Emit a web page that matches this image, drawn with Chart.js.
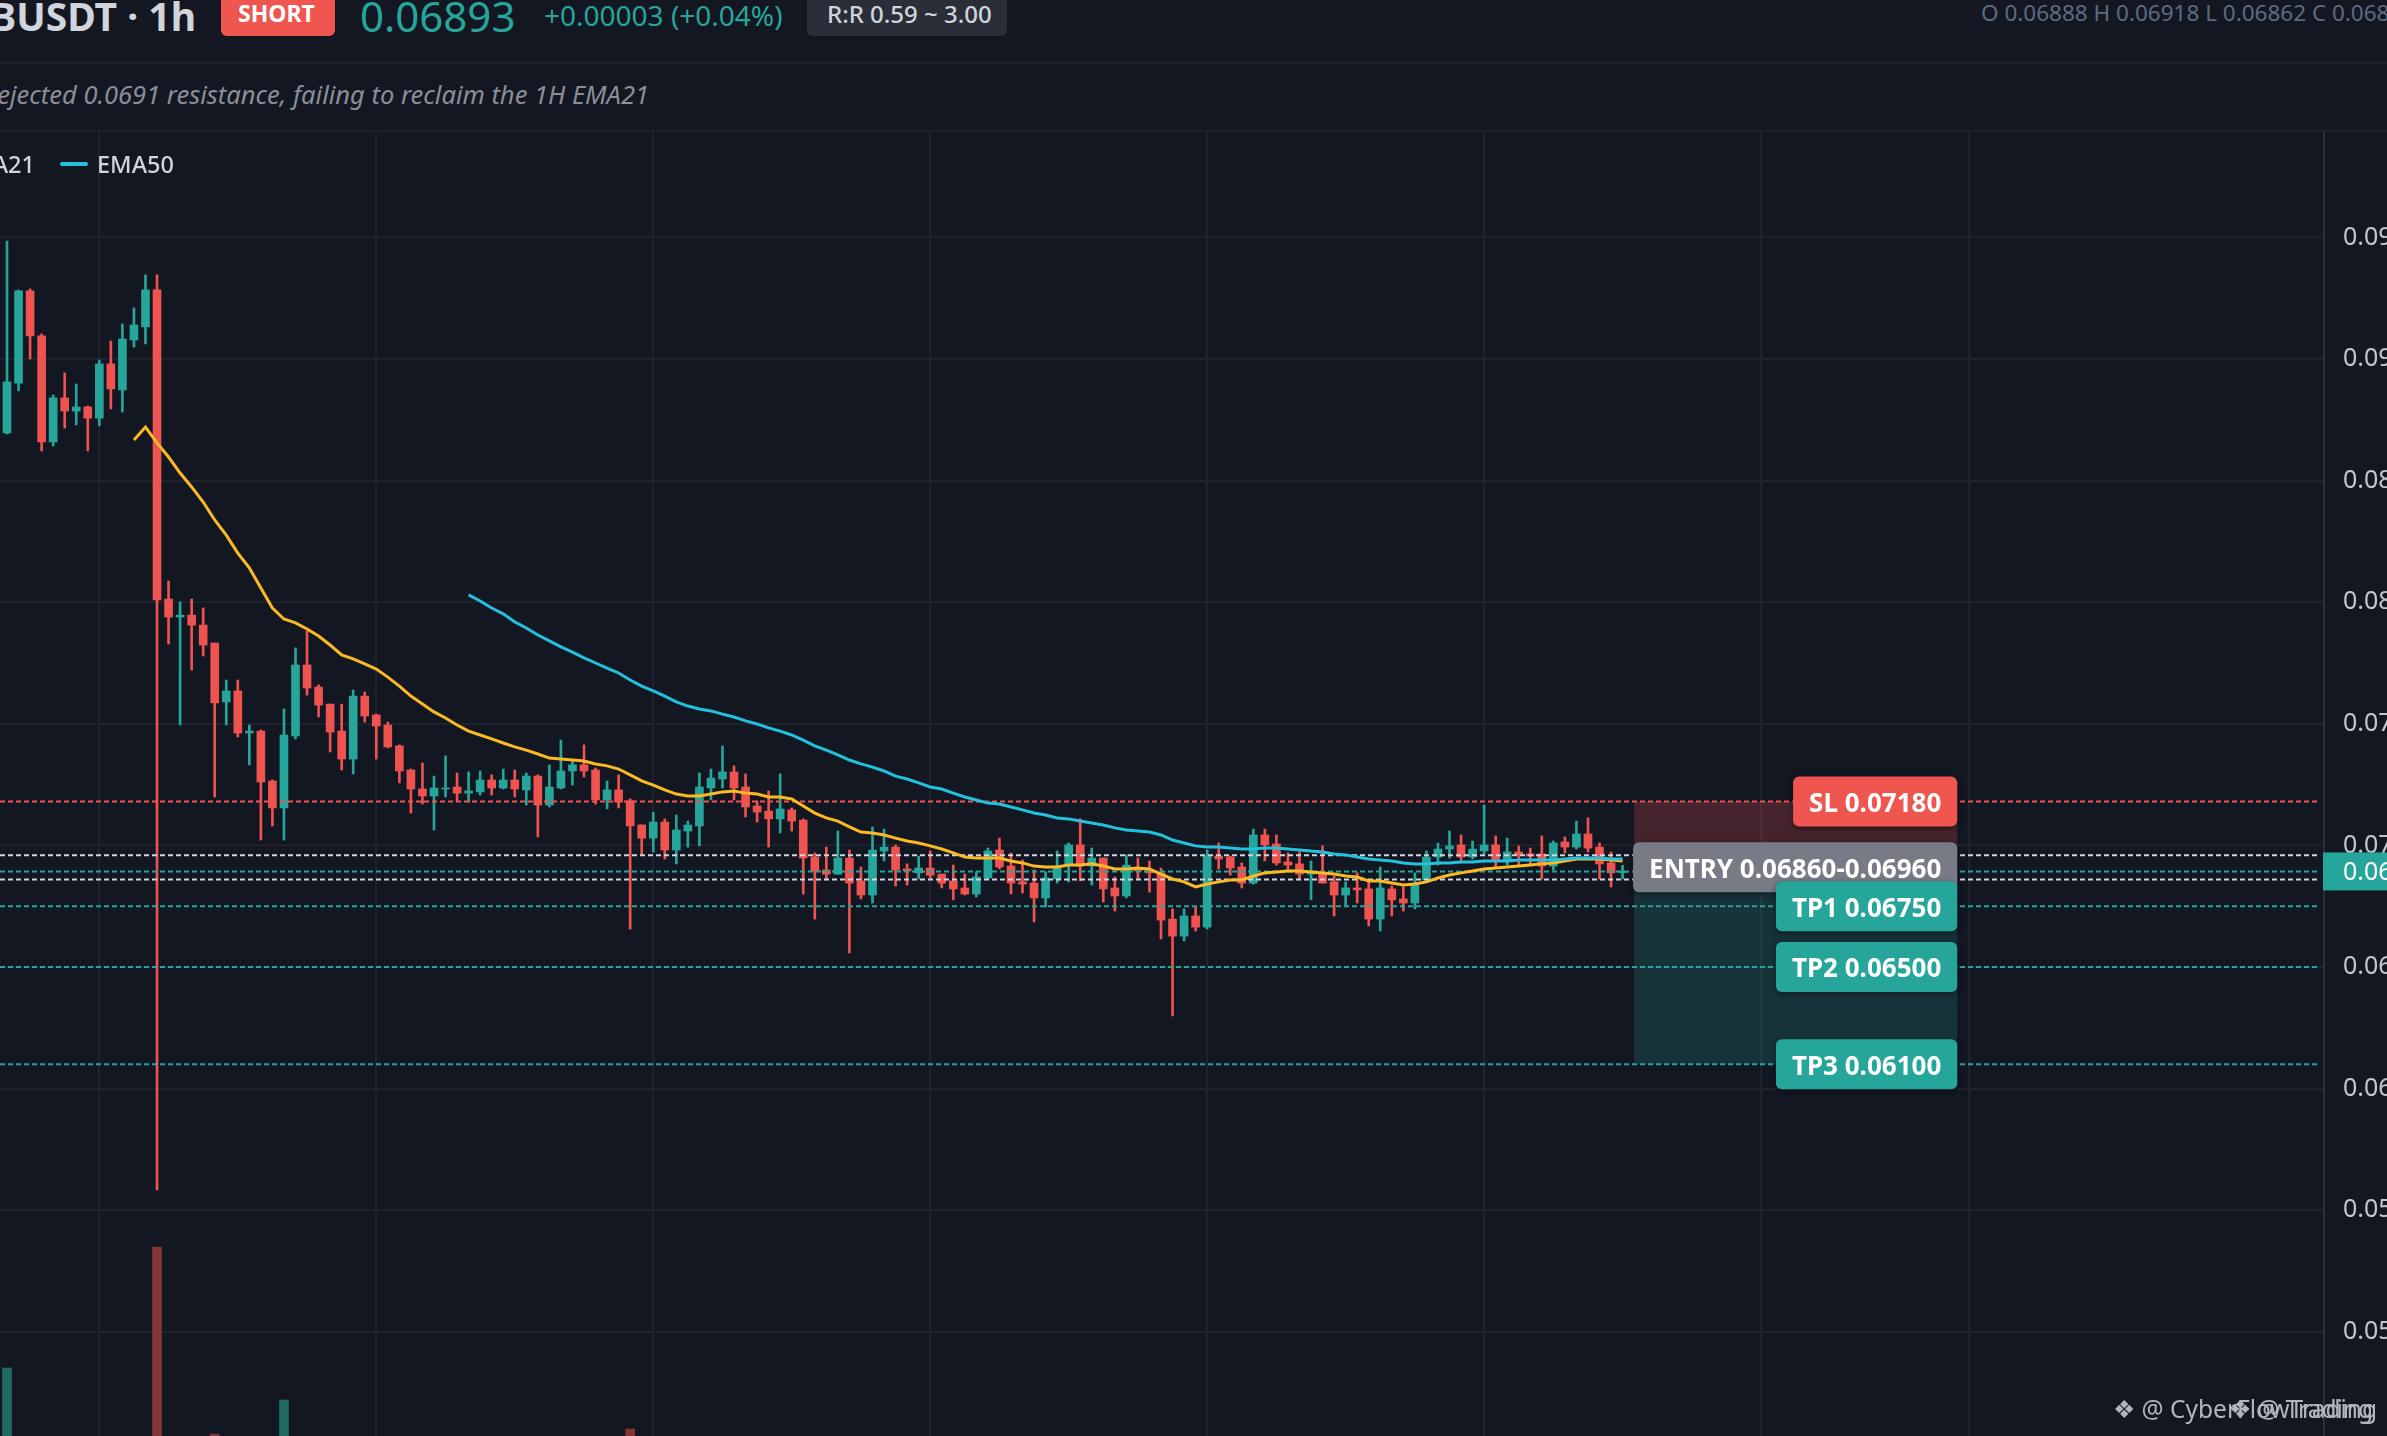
<!DOCTYPE html>
<html>
<head>
<meta charset="utf-8">
<title>BUSDT 1h</title>
<script src="https://cdn.jsdelivr.net/npm/chart.js@4/dist/chart.umd.min.js"></script>
<style>
  html, body { margin: 0; padding: 0; background: #131722; overflow: hidden; }
  body { width: 2387px; height: 1436px; position: relative; font-family: "Noto Sans", sans-serif; }
  #chart { position: absolute; left: 0; top: 131px; }
  .t { position: absolute; white-space: nowrap; line-height: 1; }
  .rule { position: absolute; left: 0; width: 2387px; height: 2px; background: #1e222d; }
  .pill { position: absolute; top: -6px; height: 42px; border-radius: 6px; }
  #swatch { position: absolute; left: 60px; top: 162px; width: 28px; height: 4px; border-radius: 2px; background: #22c1dd; }
</style>
</head>
<body>
<div class="pill" style="left:221px;width:114px;background:#f05650"></div>
<div class="pill" style="left:807px;width:200px;background:#2a2e39"></div>
<div class="t" style="right:2191px;top:-4px;font-size:39px;font-weight:700;color:#d1d4dc">BUSDT · 1h</div>
<div class="t" style="left:238px;top:2px;font-size:23px;font-weight:700;color:#fff">SHORT</div>
<div class="t" style="left:360px;top:-5px;font-size:42px;color:#26a69a">0.06893</div>
<div class="t" style="left:544px;top:1px;font-size:28px;color:#26a69a">+0.00003 (+0.04%)</div>
<div class="t" style="left:827px;top:2px;font-size:24px;font-weight:500;color:#d1d4dc">R:R 0.59 ~ 3.00</div>
<div class="t" style="left:1981px;top:2px;font-size:22.5px;color:#5d6b80">O 0.06888 H 0.06918 L 0.06862 C 0.06893</div>
<div class="rule" style="top:62px"></div>
<div class="t" style="right:1738px;top:82px;font-size:25.5px;font-style:italic;color:#8b8e98">ejected 0.0691 resistance, failing to reclaim the 1H EMA21</div>
<div class="rule" style="top:130px"></div>
<canvas id="chart" width="2387" height="1305"></canvas>
<div class="t" style="right:2352px;top:153px;font-size:23.5px;font-weight:500;color:#d1d4dc">EMA21</div>
<div id="swatch"></div>
<div class="t" style="left:97px;top:153px;font-size:23.5px;font-weight:500;color:#d1d4dc">EMA50</div>
<div class="t" style="right:10px;top:1397px;font-size:24.5px;color:#b2b5be">❖ @ CyberFlowTrading</div>
<div class="t" style="right:14px;top:1397px;font-size:24.5px;color:#b2b5be">❖ @ Trading</div>
<script>
// hourly candles
const opens = [
  0.08696,0.08901,0.09280,0.09095,0.08659,0.08840,0.08786,0.08803,0.08757,0.08980,
  0.08873,0.09078,0.09132,0.09284,0.08013,0.07939,0.07947,0.07906,0.07832,0.07590,
  0.07635,0.07462,0.07470,0.07265,0.07154,0.07450,0.07742,0.07651,0.07581,0.07470,
  0.07355,0.07614,0.07536,0.07495,0.07409,0.07310,0.07232,0.07203,0.07232,0.07240,
  0.07215,0.07220,0.07269,0.07236,0.07269,0.07228,0.07285,0.07166,0.07236,0.07306,
  0.07331,0.07310,0.07187,0.07228,0.07183,0.07084,0.07030,0.07096,0.06981,0.07059,
  0.07080,0.07236,0.07273,0.07302,0.07240,0.07162,0.07141,0.07109,0.07146,0.07104,
  0.06952,0.06899,0.06882,0.06948,0.06854,0.06796,0.06977,0.06993,0.06903,0.06887,
  0.06907,0.06882,0.06854,0.06825,0.06800,0.06866,0.06981,0.06915,0.06850,0.06845,
  0.06784,0.06862,0.06919,0.07002,0.06915,0.06948,0.06825,0.06792,0.06907,0.06899,
  0.06887,0.06697,0.06627,0.06710,0.06664,0.06956,0.06952,0.06911,0.06845,0.07043,
  0.07006,0.06932,0.06924,0.06882,0.06882,0.06850,0.06796,0.06825,0.06821,0.06697,
  0.06821,0.06780,0.06763,0.06858,0.06952,0.06985,0.07002,0.06952,0.06977,0.07002,
  0.06936,0.06973,0.06965,0.06965,0.06915,0.07014,0.06993,0.07047,0.06993,0.06928,
  0.06888
];
const highs = [
  0.09485,0.09284,0.09288,0.09103,0.08852,0.08943,0.08897,0.08807,0.08996,0.09074,
  0.09144,0.09210,0.09346,0.09346,0.08087,0.08001,0.08013,0.07976,0.07832,0.07680,
  0.07680,0.07495,0.07475,0.07269,0.07561,0.07812,0.07882,0.07660,0.07581,0.07581,
  0.07639,0.07631,0.07540,0.07507,0.07413,0.07314,0.07339,0.07285,0.07368,0.07298,
  0.07302,0.07306,0.07290,0.07314,0.07310,0.07298,0.07290,0.07331,0.07433,0.07347,
  0.07413,0.07318,0.07265,0.07290,0.07191,0.07084,0.07137,0.07109,0.07125,0.07100,
  0.07298,0.07314,0.07409,0.07327,0.07294,0.07183,0.07224,0.07294,0.07154,0.07109,
  0.06969,0.06993,0.07059,0.06981,0.06911,0.07076,0.07067,0.07002,0.06924,0.06956,
  0.06977,0.06882,0.06919,0.06882,0.06891,0.06989,0.07030,0.06969,0.06940,0.06899,
  0.06891,0.06977,0.07010,0.07109,0.06989,0.06948,0.06870,0.06961,0.06948,0.06936,
  0.06907,0.06739,0.06739,0.06747,0.06981,0.07010,0.06956,0.06928,0.07067,0.07067,
  0.07043,0.06969,0.06973,0.06936,0.06998,0.06874,0.06850,0.06887,0.06858,0.06911,
  0.06833,0.06829,0.06887,0.06977,0.07010,0.07059,0.07043,0.07018,0.07166,0.07039,
  0.07030,0.06998,0.06989,0.07039,0.07018,0.07035,0.07100,0.07113,0.07010,0.06973,
  0.06918
];
const lows = [
  0.08692,0.08869,0.09000,0.08622,0.08642,0.08716,0.08729,0.08622,0.08725,0.08795,
  0.08782,0.09049,0.09062,0.05583,0.07828,0.07495,0.07721,0.07779,0.07199,0.07495,
  0.07446,0.07331,0.07022,0.07080,0.07022,0.07438,0.07618,0.07528,0.07384,0.07310,
  0.07294,0.07507,0.07355,0.07401,0.07257,0.07133,0.07170,0.07063,0.07199,0.07183,
  0.07178,0.07207,0.07207,0.07232,0.07199,0.07166,0.07035,0.07158,0.07232,0.07248,
  0.07281,0.07170,0.07150,0.07154,0.06656,0.06961,0.06973,0.06944,0.06924,0.06993,
  0.06998,0.07187,0.07236,0.07187,0.07117,0.07096,0.06993,0.07051,0.07059,0.06800,
  0.06697,0.06858,0.06882,0.06558,0.06780,0.06763,0.06936,0.06833,0.06837,0.06862,
  0.06866,0.06825,0.06776,0.06796,0.06788,0.06862,0.06903,0.06800,0.06804,0.06685,
  0.06747,0.06845,0.06850,0.06854,0.06837,0.06767,0.06730,0.06784,0.06862,0.06808,
  0.06615,0.06299,0.06607,0.06648,0.06656,0.06903,0.06878,0.06825,0.06841,0.06936,
  0.06919,0.06895,0.06858,0.06776,0.06845,0.06710,0.06751,0.06763,0.06669,0.06648,
  0.06710,0.06730,0.06739,0.06854,0.06919,0.06948,0.06928,0.06944,0.06965,0.06907,
  0.06919,0.06915,0.06924,0.06862,0.06899,0.06969,0.06985,0.06973,0.06862,0.06829,
  0.06862
];
const closes = [
  0.08906,0.09280,0.09095,0.08659,0.08840,0.08786,0.08803,0.08757,0.08980,0.08877,
  0.09082,0.09140,0.09284,0.08009,0.07939,0.07947,0.07906,0.07824,0.07586,0.07635,
  0.07462,0.07470,0.07261,0.07154,0.07454,0.07742,0.07647,0.07577,0.07466,0.07355,
  0.07614,0.07532,0.07491,0.07405,0.07306,0.07232,0.07203,0.07236,0.07236,0.07215,
  0.07224,0.07269,0.07236,0.07269,0.07232,0.07285,0.07166,0.07240,0.07306,0.07331,
  0.07306,0.07187,0.07228,0.07178,0.07080,0.07030,0.07096,0.06981,0.07063,0.07084,
  0.07240,0.07277,0.07302,0.07236,0.07158,0.07137,0.07109,0.07150,0.07100,0.06948,
  0.06895,0.06882,0.06948,0.06845,0.06796,0.06981,0.06993,0.06899,0.06895,0.06907,
  0.06878,0.06845,0.06821,0.06800,0.06870,0.06977,0.06911,0.06845,0.06841,0.06784,
  0.06866,0.06907,0.07002,0.06915,0.06948,0.06821,0.06792,0.06919,0.06895,0.06887,
  0.06693,0.06627,0.06710,0.06664,0.06956,0.06944,0.06907,0.06845,0.07043,0.07002,
  0.06928,0.06919,0.06882,0.06891,0.06845,0.06796,0.06825,0.06817,0.06697,0.06825,
  0.06776,0.06763,0.06841,0.06952,0.06985,0.06998,0.06952,0.06985,0.07002,0.06940,
  0.06973,0.06961,0.06956,0.06915,0.07010,0.06993,0.07047,0.06989,0.06924,0.06887,
  0.06893
];

// EMA21 starts at candle 11, EMA50 at candle 40
const ema21Start = 11;
const ema21 = [
  0.08667,0.08720,0.08655,0.08597,0.08531,0.08474,0.08412,0.08338,0.08276,0.08202,
  0.08141,0.08058,0.07976,0.07931,0.07915,0.07890,0.07861,0.07824,0.07783,0.07767,
  0.07746,0.07725,0.07692,0.07655,0.07614,0.07581,0.07549,0.07524,0.07495,0.07470,
  0.07454,0.07438,0.07421,0.07405,0.07392,0.07376,0.07359,0.07355,0.07351,0.07347,
  0.07335,0.07327,0.07314,0.07290,0.07265,0.07248,0.07228,0.07211,0.07203,0.07203,
  0.07211,0.07220,0.07224,0.07215,0.07211,0.07199,0.07199,0.07191,0.07162,0.07133,
  0.07113,0.07100,0.07076,0.07055,0.07051,0.07043,0.07030,0.07018,0.07010,0.06998,
  0.06985,0.06969,0.06952,0.06948,0.06948,0.06948,0.06936,0.06928,0.06915,0.06911,
  0.06911,0.06919,0.06919,0.06924,0.06915,0.06903,0.06903,0.06907,0.06903,0.06882,
  0.06862,0.06850,0.06829,0.06841,0.06850,0.06858,0.06858,0.06874,0.06887,0.06891,
  0.06895,0.06895,0.06891,0.06887,0.06882,0.06874,0.06870,0.06854,0.06854,0.06845,
  0.06837,0.06841,0.06850,0.06866,0.06878,0.06887,0.06895,0.06903,0.06907,0.06911,
  0.06915,0.06919,0.06924,0.06928,0.06936,0.06944,0.06944,0.06944,0.06940,0.06936
];
const ema50Start = 40;
const ema50 = [
  0.08030,0.08005,0.07976,0.07952,0.07919,0.07894,0.07865,0.07841,0.07816,0.07795,
  0.07771,0.07750,0.07729,0.07709,0.07680,0.07655,0.07635,0.07614,0.07590,0.07573,
  0.07561,0.07553,0.07540,0.07528,0.07512,0.07499,0.07483,0.07470,0.07454,0.07433,
  0.07409,0.07392,0.07372,0.07351,0.07335,0.07322,0.07306,0.07285,0.07273,0.07257,
  0.07240,0.07232,0.07215,0.07199,0.07187,0.07174,0.07170,0.07158,0.07146,0.07133,
  0.07125,0.07113,0.07109,0.07100,0.07092,0.07084,0.07072,0.07063,0.07059,0.07055,
  0.07043,0.07022,0.07010,0.06998,0.06993,0.06993,0.06989,0.06985,0.06985,0.06989,
  0.06989,0.06985,0.06981,0.06977,0.06973,0.06965,0.06961,0.06952,0.06944,0.06940,
  0.06936,0.06928,0.06924,0.06924,0.06928,0.06928,0.06932,0.06932,0.06936,0.06936,
  0.06936,0.06940,0.06940,0.06940,0.06940,0.06944,0.06948,0.06948,0.06948,0.06944,
  0.06944
];

// only these volume bars reach into the window
const volumeCandles = [0, 13, 18, 24, 54];
const volumeValues = [68000, 189000, 2000, 36000, 7000];

const priceTicks = [0.095, 0.09, 0.085, 0.08, 0.075, 0.07, 0.065, 0.06, 0.055, 0.05];
const timeTicks = [8, 32, 56, 80, 104, 128, 152, 170];

const lastPrice = 0.06893;
const slPrice = 0.0718;
const entryLow = 0.0686;
const entryHigh = 0.0696;
const tpPrices = [0.0675, 0.065, 0.061];
const zoneFrom = 141;
const zoneTo = 169;

const noteTexts = ["SL 0.07180", "ENTRY 0.06860-0.06960", "TP1 0.06750", "TP2 0.06500", "TP3 0.06100"];
const notePrices = [slPrice, (entryLow + entryHigh) / 2, tpPrices[0], tpPrices[1], tpPrices[2]];
const noteColors = ["#f05650", "#787b86", "#26a69a", "#26a69a", "#26a69a"];

const RED = "#ef5350";
const GREEN = "#26a69a";
const WHITE = "#d1d4dc";
const xMin = -7 / 11.54;
const xMax = 2317 / 11.54;
const levelEnd = 2320 / 11.54 - 0.6;

const isUp = opens.map((o, i) => closes[i] >= o);
const candleColors = isUp.map(u => u ? GREEN : RED);

function levelLine(price, color) {
  return {
    type: "line",
    data: [{ x: xMin, y: price }, { x: levelEnd, y: price }],
    borderColor: color,
    borderWidth: 2,
    borderDash: [5, 3],
    pointRadius: 0,
    order: 5
  };
}

function roundedBox(ctx, x, y, w, h, r) {
  ctx.beginPath();
  ctx.roundRect(x, y, w, h, r);
  ctx.fill();
}

const zonePlugin = {
  id: "zones",
  beforeDatasetsDraw(chart) {
    const { ctx, scales: { x, y } } = chart;
    const left = x.getPixelForValue(zoneFrom);
    const w = x.getPixelForValue(zoneTo) - left;
    ctx.save();
    ctx.fillStyle = "rgba(239,83,80,0.23)";
    ctx.fillRect(left, y.getPixelForValue(slPrice), w, y.getPixelForValue(entryHigh) - y.getPixelForValue(slPrice));
    ctx.fillStyle = "rgba(38,166,154,0.2)";
    ctx.fillRect(left, y.getPixelForValue(entryLow), w, y.getPixelForValue(tpPrices[2]) - y.getPixelForValue(entryLow));
    ctx.restore();
  }
};

const notePlugin = {
  id: "notes",
  afterDraw(chart) {
    const { ctx, scales: { x, y } } = chart;
    const right = x.getPixelForValue(zoneTo);
    ctx.save();
    ctx.textBaseline = "middle";
    notePrices.forEach((p, i) => {
      ctx.font = "700 26px 'Noto Sans'";
      const w = ctx.measureText(noteTexts[i]).width + 32;
      const cy = y.getPixelForValue(p);
      ctx.shadowColor = "rgba(0,0,0,0.45)";
      ctx.shadowBlur = 6;
      ctx.shadowOffsetY = 2;
      ctx.fillStyle = noteColors[i];
      roundedBox(ctx, right - w, cy - 25, w, 50, 6);
      ctx.shadowColor = "transparent";
      ctx.fillStyle = "#fff";
      ctx.textAlign = "right";
      ctx.fillText(noteTexts[i], right - 16, cy + 3);
    });
    // last price tag on the axis
    const ty = y.getPixelForValue(lastPrice);
    ctx.fillStyle = GREEN;
    ctx.fillRect(chart.chartArea.right - 1, ty - 19, 70, 38);
    ctx.fillStyle = "#fff";
    ctx.textAlign = "left";
    ctx.font = "25px 'Noto Sans'";
    ctx.fillText(lastPrice.toFixed(5), chart.chartArea.right + 19, ty + 1);
    ctx.restore();
  }
};

new Chart(document.getElementById("chart"), {
  type: "bar",
  data: {
    datasets: [
      {
        data: ema50.map((v, i) => ({ x: ema50Start + i, y: v })),
        type: "line", borderColor: "#22c1dd", borderWidth: 3, pointRadius: 0, order: 1
      },
      {
        data: ema21.map((v, i) => ({ x: ema21Start + i, y: v })),
        type: "line", borderColor: "#fbb924", borderWidth: 3, pointRadius: 0, order: 2
      },
      levelLine(slPrice, RED),
      levelLine(entryHigh, WHITE),
      levelLine(entryLow, WHITE),
      levelLine(lastPrice, GREEN),
      levelLine(tpPrices[0], GREEN),
      levelLine(tpPrices[1], GREEN),
      levelLine(tpPrices[2], GREEN),
      {
        // bodies
        data: opens.map((o, i) => ({ x: i, y: [o, closes[i]] })),
        backgroundColor: candleColors, barThickness: 8, grouped: false, order: 10
      },
      {
        // wicks
        data: lows.map((l, i) => ({ x: i, y: [l, highs[i]] })),
        backgroundColor: candleColors, barThickness: 2, grouped: false, order: 11
      },
      {
        data: volumeCandles.map((c, i) => ({ x: c, y: volumeValues[i] })),
        yAxisID: "vol",
        backgroundColor: volumeCandles.map(c => isUp[c] ? "#1f6b63" : "#843336"),
        barThickness: 9, grouped: false, order: 12
      }
    ]
  },
  options: {
    responsive: false,
    animation: false,
    devicePixelRatio: 1,
    layout: { padding: 0 },
    plugins: { legend: { display: false }, tooltip: { enabled: false } },
    scales: {
      x: {
        type: "linear",
        min: xMin,
        max: xMax,
        offset: false,
        grid: { color: "#1e222d", lineWidth: 2, drawTicks: false, offset: false },
        border: { display: false },
        ticks: { display: false },
        afterBuildTicks: s => { s.ticks = timeTicks.map(v => ({ value: v })); },
        afterFit: s => { s.height = 0; s.paddingLeft = 0; s.paddingRight = 0; }
      },
      y: {
        position: "right",
        min: 0.065 - 469 / 24320,
        max: 0.065 + 836 / 24320,
        grid: { color: "#1e222d", lineWidth: 2, drawTicks: false },
        border: { display: true, color: "#2a2e39", width: 2 },
        ticks: {
          color: "#c3c6ce",
          padding: 19,
          autoSkip: false,
          font: { family: "'Noto Sans'", size: 25 },
          callback: v => v.toFixed(5)
        },
        afterBuildTicks: s => { s.ticks = priceTicks.map(v => ({ value: v })); },
        afterFit: s => { s.width = 63; s.paddingTop = 0; s.paddingBottom = 0; }
      },
      vol: { display: false, min: 0, max: 1305000 }
    }
  },
  plugins: [zonePlugin, notePlugin]
});
</script>
</body>
</html>
